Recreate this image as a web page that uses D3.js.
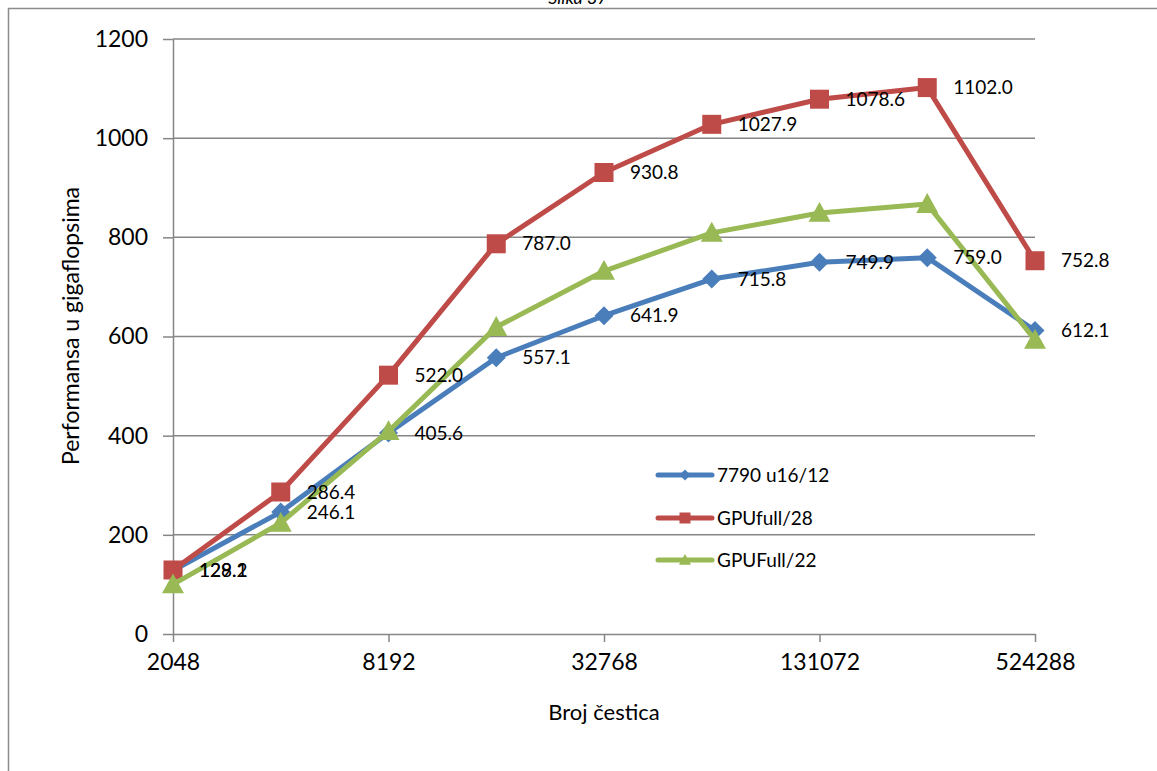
<!DOCTYPE html>
<html>
<head>
<meta charset="utf-8">
<script src="https://cdn.jsdelivr.net/npm/d3@7"></script>
<style>
  body { margin: 0; background: #fff; }
  svg { display: block; font-family: Lato, "Open Sans", sans-serif; }
  .axis path, .axis line { stroke: #868686; stroke-width: 1.5; }
  .axis text { fill: #000; font-size: 23px; font-family: Lato, sans-serif; }
  .grid line { stroke: #868686; stroke-width: 1.5; }
  .lbl { font-size: 19px; fill: #000; }
</style>
</head>
<body>
<div id="viz"></div>
<script>
var width = 1157, height = 771;

// broj cestica (x) and the three series
var particles = [2048, 4096, 8192, 16384, 32768, 65536, 131072, 262144, 524288];
var xTicks = [2048, 8192, 32768, 131072, 524288];
var yTicks = [0, 200, 400, 600, 800, 1000, 1200];

var blueName = "7790 u16/12";
var blueVals = [128.2, 246.1, 405.6, 557.1, 641.9, 715.8, 749.9, 759.0, 612.1];
var redName = "GPUfull/28";
var redVals = [129.1, 286.4, 522.0, 787.0, 930.8, 1027.9, 1078.6, 1102.0, 752.8];
var greenName = "GPUFull/22";
var greenVals = [100, 224, 409, 619, 732, 809, 849, 867, 593];

var series = [
  { name: blueName, values: blueVals, color: "#4a7ebb", marker: "diamond", labels: true },
  { name: redName, values: redVals, color: "#be4b48", marker: "square", labels: true },
  { name: greenName, values: greenVals, color: "#98b954", marker: "triangle", labels: false }
];

var svg = d3.select("#viz").append("svg").attr("width", width).attr("height", height);

// frame (only top/left visible in the source), title mostly off the top
svg.append("text")
    .attr("x", 578).attr("y", 4)
    .attr("text-anchor", "middle")
    .style("font-size", "18px")
    .style("font-style", "italic")
    .text("Slika 37");
svg.append("path")
    .attr("d", "M8.5," + height + " V8.5 H" + width)
    .attr("fill", "none")
    .attr("stroke", "#8c8c8c")
    .attr("stroke-width", 1.5);

var x = d3.scaleLog().base(2)
    .domain([2048, 524288])
    .range([173, 1035]);

var y = d3.scaleLinear()
    .domain([0, 1200])
    .range([634, 39]);

// horizontal gridlines
svg.append("g")
    .attr("class", "grid")
  .selectAll("line")
  .data(yTicks.filter(function(d) { return d > 0; }))
  .enter().append("line")
    .attr("x1", x(2048)).attr("x2", x(524288))
    .attr("y1", function(d) { return y(d); })
    .attr("y2", function(d) { return y(d); });

svg.append("g")
    .attr("class", "axis")
    .attr("transform", "translate(" + x(2048) + ",0)")
    .call(d3.axisLeft(y).tickValues(yTicks).tickFormat(d3.format("d")).tickSize(10).tickSizeOuter(0).tickPadding(15));

svg.append("g")
    .attr("class", "axis")
    .attr("transform", "translate(0," + y(0) + ")")
    .call(d3.axisBottom(x).tickValues(xTicks).tickFormat(d3.format("d")).tickSize(8).tickSizeOuter(0).tickPadding(12));

// axis titles
svg.append("text")
    .attr("x", 604).attr("y", 720)
    .attr("text-anchor", "middle")
    .style("font-size", "22px")
    .text("Broj čestica");

svg.append("text")
    .attr("transform", "translate(79,326) rotate(-90)")
    .attr("text-anchor", "middle")
    .style("font-size", "23px")
    .text("Performansa u gigaflopsima");

function markerPath(type, s) {
  if (type == "diamond") return "M0," + (-s) + " L" + s + ",0 L0," + s + " L" + (-s) + ",0 Z";
  if (type == "square") return "M" + (-s) + "," + (-s) + " H" + s + " V" + s + " H" + (-s) + " Z";
  var h = s * 1.1;
  return "M0," + (-h) + " L" + (s * 1.1) + "," + (h * 0.8) + " L" + (-s * 1.1) + "," + (h * 0.8) + " Z";
}
var markerSize = { diamond: 9.5, square: 9.5, triangle: 10 };

var line = d3.line()
    .x(function(d) { return x(d.x); })
    .y(function(d) { return y(d.v); });

series.forEach(function(s) {
  var pts = particles.map(function(p, i) { return { x: p, v: s.values[i] }; });
  var g = svg.append("g");
  g.append("path")
      .datum(pts)
      .attr("d", line)
      .attr("fill", "none")
      .attr("stroke", s.color)
      .attr("stroke-width", 5)
      .attr("stroke-linejoin", "round");
  g.selectAll(".mk")
    .data(pts)
    .enter().append("path")
      .attr("transform", function(d) { return "translate(" + x(d.x) + "," + y(d.v) + ")"; })
      .attr("d", markerPath(s.marker, markerSize[s.marker]))
      .attr("fill", s.color);
});

// data labels on top
series.filter(function(s) { return s.labels; }).forEach(function(s) {
  svg.append("g").selectAll("text")
    .data(particles.map(function(p, i) { return { x: p, v: s.values[i] }; }))
    .enter().append("text")
      .attr("class", "lbl")
      .attr("x", function(d) { return x(d.x) + 26; })
      .attr("y", function(d) { return y(d.v); })
      .attr("dy", "0.35em")
      .text(function(d) { return d.v.toFixed(1); });
});

// legend
var legend = svg.append("g").selectAll("g")
    .data(series)
    .enter().append("g")
      .attr("transform", function(d, i) { return "translate(658," + [475, 518, 560][i] + ")"; });

legend.append("line")
    .attr("x1", 0).attr("x2", 54)
    .attr("stroke", function(d) { return d.color; })
    .attr("stroke-width", 5)
    .attr("stroke-linecap", "round");

legend.append("path")
    .attr("transform", "translate(27,0)")
    .attr("d", function(d) { return markerPath(d.marker, 5.5); })
    .attr("fill", function(d) { return d.color; });

legend.append("text")
    .attr("class", "lbl")
    .attr("x", 59)
    .attr("dy", "0.35em")
    .text(function(d) { return d.name; });
</script>
</body>
</html>
